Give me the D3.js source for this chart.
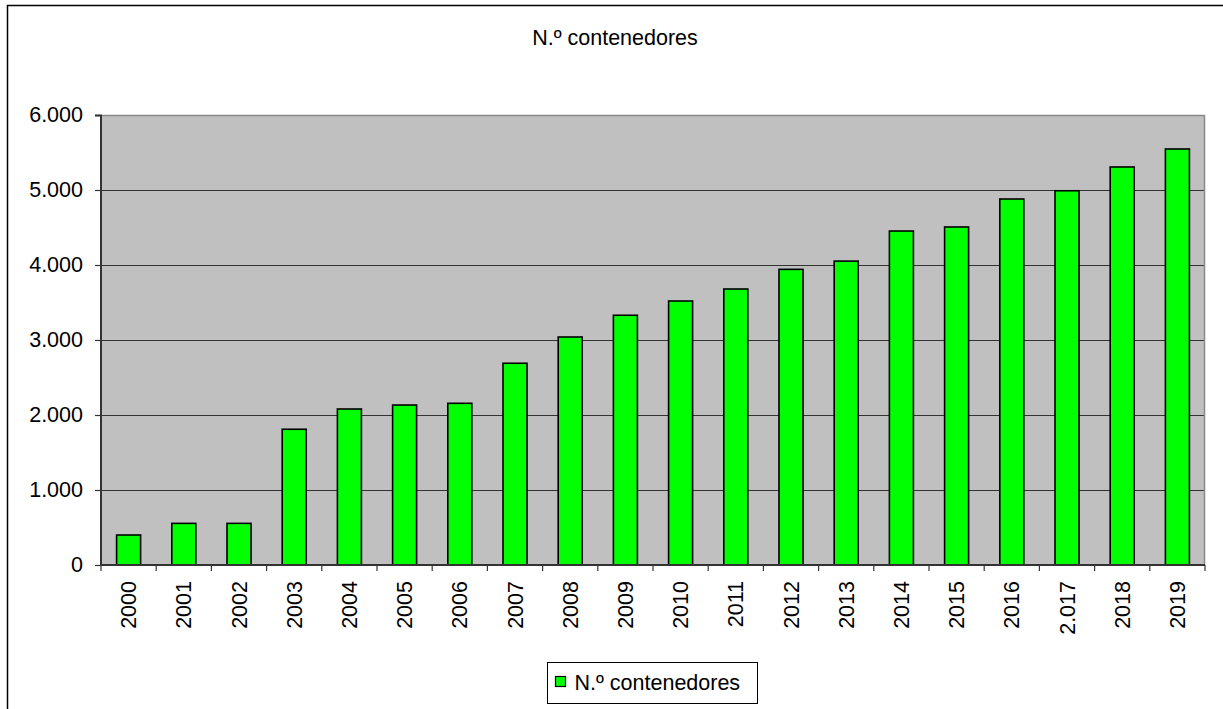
<!DOCTYPE html>
<html>
<head>
<meta charset="utf-8">
<script src="https://cdn.jsdelivr.net/npm/d3@7"></script>
<style>
  body { margin: 0; background: #fff; }
  text { font-family: Arial, "Liberation Sans", sans-serif; fill: #000; }
</style>
</head>
<body>
<svg id="chart" width="1223" height="709"></svg>
<script>
// values
var years = ["2000","2001","2002","2003","2004","2005","2006","2007","2008","2009",
             "2010","2011","2012","2013","2014","2015","2016","2.017","2018","2019"];
var contenedores = [400, 555, 555, 1810, 2080, 2133, 2156, 2690, 3040, 3330,
                    3520, 3680, 3942, 4052, 4453, 4507, 4880, 4990, 5307, 5547];
var yTicks = [0, 1000, 2000, 3000, 4000, 5000, 6000];
var seriesName = "N.º contenedores";

var fontSize = "21.5px";
var margin = {left: 101, right: 18, top: 115, bottom: 144};
var width = 1223 - margin.left - margin.right,
    height = 709 - margin.top - margin.bottom;

var svg = d3.select("#chart");

// outer border
svg.append("rect")
    .attr("x", 7.5).attr("y", 5.5)
    .attr("width", 1240).attr("height", 720)
    .attr("fill", "#fff")
    .attr("stroke", "#000")
    .attr("stroke-width", 1.5);

svg.append("text")
    .attr("x", 615).attr("y", 45)
    .attr("text-anchor", "middle")
    .attr("font-size", fontSize)
    .text(seriesName);

var g = svg.append("g")
    .attr("transform", "translate(" + margin.left + "," + margin.top + ")");

var x = d3.scaleBand()
    .domain(years)
    .range([0, width])
    .paddingInner(0.565)
    .paddingOuter(0.2825);

var y = d3.scaleLinear()
    .domain([0, 6000])
    .range([height, 0]);

// plot area
g.append("rect")
    .attr("width", width).attr("height", height)
    .attr("fill", "#c0c0c0");

// grid lines
g.selectAll(".grid")
    .data(yTicks.slice(1, -1))
    .enter()
    .append("line")
    .attr("x1", 0).attr("x2", width)
    .attr("y1", function (d) { return Math.round(y(d)) + 0.5; })
    .attr("y2", function (d) { return Math.round(y(d)) + 0.5; })
    .attr("stroke", "#333")
    .attr("stroke-width", 1);

// top and right border of plot area
g.append("path")
    .attr("d", "M0,0.5H" + (width - 0.5) + "V" + height)
    .attr("fill", "none")
    .attr("stroke", "#888")
    .attr("stroke-width", 1.5);

// bars
g.selectAll(".bar")
    .data(contenedores)
    .enter()
    .append("rect")
    .attr("x", function (d, i) { return x(years[i]); })
    .attr("y", function (d) { return y(d); })
    .attr("width", x.bandwidth())
    .attr("height", function (d) { return height - y(d); })
    .attr("fill", "#00ff00")
    .attr("stroke", "#000")
    .attr("stroke-width", 1.6);

// Y axis
var yAxisCall = d3.axisLeft(y)
    .tickValues(yTicks)
    .tickSize(6)
    .tickPadding(12)
    .tickFormat(function (d) { return d === 0 ? "0" : d3.format(",")(d).replace(/,/g, "."); });
var yAxis = g.append("g").call(yAxisCall);
yAxis.select(".domain").attr("stroke", "#333").attr("stroke-width", 2)
    .attr("d", "M-6,0.5H0V" + height);
yAxis.selectAll(".tick line").attr("stroke", "#333").attr("stroke-width", 1.2);
yAxis.selectAll("text")
    .attr("font-size", fontSize)
    .attr("font-family", "Arial, 'Liberation Sans', sans-serif")
    .attr("fill", "#000");

// X axis line and ticks at category boundaries
var step = x.step();
var xg = g.append("g").attr("transform", "translate(0," + height + ")");
xg.append("line")
    .attr("x1", 0).attr("x2", width)
    .attr("stroke", "#333").attr("stroke-width", 2);
xg.selectAll(".xtick")
    .data(d3.range(years.length + 1))
    .enter()
    .append("line")
    .attr("x1", function (i) { return i * step; })
    .attr("x2", function (i) { return i * step; })
    .attr("y1", 0).attr("y2", 6)
    .attr("stroke", "#333").attr("stroke-width", 1.2);

xg.selectAll(".xlabel")
    .data(years)
    .enter()
    .append("text")
    .attr("transform", function (d) {
        return "translate(" + (x(d) + x.bandwidth() / 2) + ",16) rotate(-90)";
    })
    .attr("text-anchor", "end")
    .attr("dy", "0.35em")
    .attr("font-size", fontSize)
    .text(function (d) { return d; });

// legend
var leg = svg.append("g").attr("transform", "translate(547.5,662.5)");
leg.append("rect")
    .attr("width", 210).attr("height", 41)
    .attr("fill", "#fff")
    .attr("stroke", "#000").attr("stroke-width", 1);
leg.append("rect")
    .attr("x", 8).attr("y", 14)
    .attr("width", 10).attr("height", 10)
    .attr("fill", "#00ff00")
    .attr("stroke", "#000").attr("stroke-width", 1.2);
leg.append("text")
    .attr("x", 27).attr("y", 27)
    .attr("font-size", fontSize)
    .text(seriesName);
</script>
</body>
</html>
